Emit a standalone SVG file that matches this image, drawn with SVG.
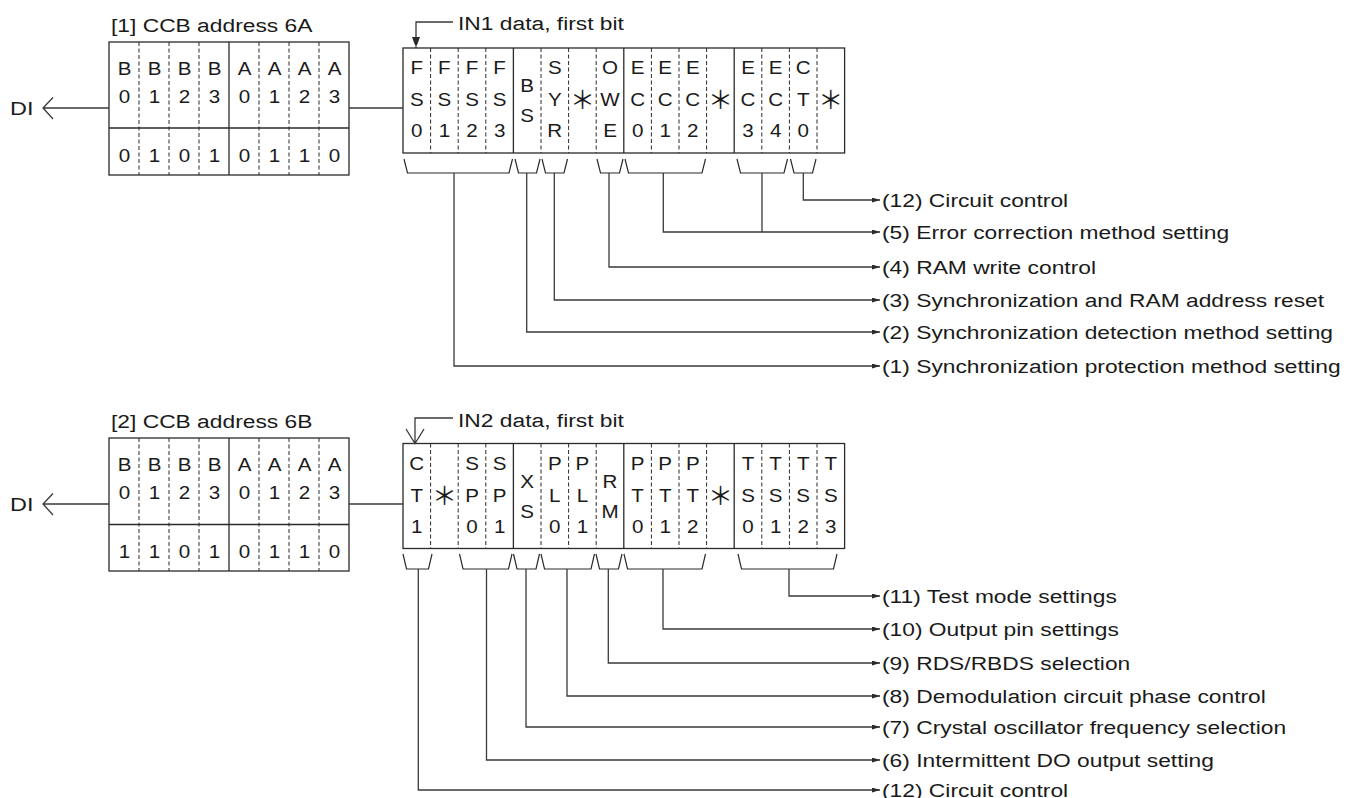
<svg xmlns="http://www.w3.org/2000/svg" width="1351" height="798" viewBox="0 0 1351 798">
<style>
.t{font-family:"Liberation Sans",Arial,sans-serif;font-size:18.6px;fill:#1a1a1a}
.c{font-family:"Liberation Sans",Arial,sans-serif;font-size:18.4px;fill:#1a1a1a;text-anchor:middle}
.ast{font-family:"Noto Sans CJK JP",sans-serif;font-size:25px;fill:#1a1a1a;text-anchor:middle}
.box{fill:#fff;stroke:#2a2a2a;stroke-width:1.3}
.sl{stroke:#2a2a2a;stroke-width:1.3;fill:none}
.dl{stroke:#2a2a2a;stroke-width:1;stroke-dasharray:4 2.5;fill:none}
.br{stroke:#2a2a2a;stroke-width:1.2;fill:none}
.cn{stroke:#3a3a3a;stroke-width:1.3;fill:none}
.ar{stroke:#3a3a3a;stroke-width:1.3;fill:none;marker-end:url(#ah)}
</style>
<defs>
<marker id="ah" markerWidth="8" markerHeight="5" refX="8" refY="2.5" orient="auto" markerUnits="userSpaceOnUse"><path d="M0,0 L8,2.5 L0,5 z" fill="#2a2a2a"/></marker>
<marker id="ah2" markerWidth="8" markerHeight="11" refX="11" refY="4" orient="auto" markerUnits="userSpaceOnUse"><path d="M0,0 L11,4 L0,8 z" fill="#2a2a2a"/></marker>
</defs>

<!-- ===== Section 1 ===== -->
<g id="ccb1">
<text class="t" transform="matrix(1.226 0 0 1 111 31.7)">[1] CCB address 6A</text>
<rect class="box" x="109" y="42" width="240" height="133"/>
<line class="sl" x1="109" y1="128" x2="349" y2="128"/>
<line class="sl" x1="229" y1="42" x2="229" y2="175"/>
<path class="dl" d="M139 42V175M169 42V175M199 42V175M259 42V175M289 42V175M319 42V175"/>
<g transform="matrix(1.12 0 0 1 124.5 0)"><text class="c" y="75">B</text><text class="c" y="103">0</text><text class="c" y="162">0</text></g>
<g transform="matrix(1.12 0 0 1 154.5 0)"><text class="c" y="75">B</text><text class="c" y="103">1</text><text class="c" y="162">1</text></g>
<g transform="matrix(1.12 0 0 1 184.5 0)"><text class="c" y="75">B</text><text class="c" y="103">2</text><text class="c" y="162">0</text></g>
<g transform="matrix(1.12 0 0 1 214.5 0)"><text class="c" y="75">B</text><text class="c" y="103">3</text><text class="c" y="162">1</text></g>
<g transform="matrix(1.12 0 0 1 244.5 0)"><text class="c" y="75">A</text><text class="c" y="103">0</text><text class="c" y="162">0</text></g>
<g transform="matrix(1.12 0 0 1 274.5 0)"><text class="c" y="75">A</text><text class="c" y="103">1</text><text class="c" y="162">1</text></g>
<g transform="matrix(1.12 0 0 1 304.5 0)"><text class="c" y="75">A</text><text class="c" y="103">2</text><text class="c" y="162">1</text></g>
<g transform="matrix(1.12 0 0 1 334.5 0)"><text class="c" y="75">A</text><text class="c" y="103">3</text><text class="c" y="162">0</text></g>
</g>
<g id="di1">
<text class="t" transform="matrix(1.26 0 0 1 10 115)">DI</text>
</g>

<g id="in1">
<rect class="box" x="403" y="48" width="441.6" height="105"/>
<path class="sl" d="M513.4 48V153M623.8 48V153M734.2 48V153"/>
<path class="dl" d="M430.6 48V153M458.2 48V153M485.8 48V153M541 48V153M568.6 48V153M596.2 48V153M651.4 48V153M679 48V153M706.6 48V153M761.8 48V153M789.4 48V153M817 48V153"/>
<g transform="matrix(1.12 0 0 1 416.8 0)"><text class="c" y="74">F</text><text class="c" y="106">S</text><text class="c" y="137.5">0</text></g>
<g transform="matrix(1.12 0 0 1 444.4 0)"><text class="c" y="74">F</text><text class="c" y="106">S</text><text class="c" y="137.5">1</text></g>
<g transform="matrix(1.12 0 0 1 472 0)"><text class="c" y="74">F</text><text class="c" y="106">S</text><text class="c" y="137.5">2</text></g>
<g transform="matrix(1.12 0 0 1 499.6 0)"><text class="c" y="74">F</text><text class="c" y="106">S</text><text class="c" y="137.5">3</text></g>
<g transform="matrix(1.12 0 0 1 527.2 0)"><text class="c" y="91.7">B</text><text class="c" y="121.7">S</text></g>
<g transform="matrix(1.12 0 0 1 554.8 0)"><text class="c" y="74">S</text><text class="c" y="106">Y</text><text class="c" y="137.5">R</text></g>
<text class="ast" x="582.4" y="109">＊</text>
<g transform="matrix(1.12 0 0 1 610 0)"><text class="c" y="74">O</text><text class="c" y="106">W</text><text class="c" y="137.5">E</text></g>
<g transform="matrix(1.12 0 0 1 637.6 0)"><text class="c" y="74">E</text><text class="c" y="106">C</text><text class="c" y="137.5">0</text></g>
<g transform="matrix(1.12 0 0 1 665.2 0)"><text class="c" y="74">E</text><text class="c" y="106">C</text><text class="c" y="137.5">1</text></g>
<g transform="matrix(1.12 0 0 1 692.8 0)"><text class="c" y="74">E</text><text class="c" y="106">C</text><text class="c" y="137.5">2</text></g>
<text class="ast" x="720.4" y="109">＊</text>
<g transform="matrix(1.12 0 0 1 748 0)"><text class="c" y="74">E</text><text class="c" y="106">C</text><text class="c" y="137.5">3</text></g>
<g transform="matrix(1.12 0 0 1 775.6 0)"><text class="c" y="74">E</text><text class="c" y="106">C</text><text class="c" y="137.5">4</text></g>
<g transform="matrix(1.12 0 0 1 803.2 0)"><text class="c" y="74">C</text><text class="c" y="106">T</text><text class="c" y="137.5">0</text></g>
<text class="ast" x="830.8" y="109">＊</text>
</g>
<g id="in1label">
<text class="t" transform="matrix(1.226 0 0 1 458 30)">IN1 data, first bit</text>
</g>

<g id="labels1">
<text class="t" transform="matrix(1.226 0 0 1 882 206.6)">(12) Circuit control</text>
<text class="t" transform="matrix(1.226 0 0 1 882 238.6)">(5) Error correction method setting</text>
<text class="t" transform="matrix(1.226 0 0 1 882 273.6)">(4) RAM write control</text>
<text class="t" transform="matrix(1.226 0 0 1 882 306.6)">(3) Synchronization and RAM address reset</text>
<text class="t" transform="matrix(1.226 0 0 1 882 338.6)">(2) Synchronization detection method setting</text>
<text class="t" transform="matrix(1.226 0 0 1 882 372.6)">(1) Synchronization protection method setting</text>
</g>

<!-- ===== Section 2 ===== -->
<g id="ccb2">
<text class="t" transform="matrix(1.226 0 0 1 111 428)">[2] CCB address 6B</text>
<rect class="box" x="109" y="438" width="240" height="133"/>
<line class="sl" x1="109" y1="524.5" x2="349" y2="524.5"/>
<line class="sl" x1="229" y1="438" x2="229" y2="571"/>
<path class="dl" d="M139 438V571M169 438V571M199 438V571M259 438V571M289 438V571M319 438V571"/>
<g transform="matrix(1.12 0 0 1 124.5 0)"><text class="c" y="471">B</text><text class="c" y="499">0</text><text class="c" y="558">1</text></g>
<g transform="matrix(1.12 0 0 1 154.5 0)"><text class="c" y="471">B</text><text class="c" y="499">1</text><text class="c" y="558">1</text></g>
<g transform="matrix(1.12 0 0 1 184.5 0)"><text class="c" y="471">B</text><text class="c" y="499">2</text><text class="c" y="558">0</text></g>
<g transform="matrix(1.12 0 0 1 214.5 0)"><text class="c" y="471">B</text><text class="c" y="499">3</text><text class="c" y="558">1</text></g>
<g transform="matrix(1.12 0 0 1 244.5 0)"><text class="c" y="471">A</text><text class="c" y="499">0</text><text class="c" y="558">0</text></g>
<g transform="matrix(1.12 0 0 1 274.5 0)"><text class="c" y="471">A</text><text class="c" y="499">1</text><text class="c" y="558">1</text></g>
<g transform="matrix(1.12 0 0 1 304.5 0)"><text class="c" y="471">A</text><text class="c" y="499">2</text><text class="c" y="558">1</text></g>
<g transform="matrix(1.12 0 0 1 334.5 0)"><text class="c" y="471">A</text><text class="c" y="499">3</text><text class="c" y="558">0</text></g>
</g>
<g id="di2">
<text class="t" transform="matrix(1.26 0 0 1 10 511)">DI</text>
</g>

<g id="in2">
<rect class="box" x="403" y="443.5" width="441.6" height="105"/>
<path class="sl" d="M513.4 443.5V548.5M623.8 443.5V548.5M734.2 443.5V548.5"/>
<path class="dl" d="M430.6 443.5V548.5M458.2 443.5V548.5M485.8 443.5V548.5M541 443.5V548.5M568.6 443.5V548.5M596.2 443.5V548.5M651.4 443.5V548.5M679 443.5V548.5M706.6 443.5V548.5M761.8 443.5V548.5M789.4 443.5V548.5M817 443.5V548.5"/>
<g transform="matrix(1.12 0 0 1 416.8 0)"><text class="c" y="470">C</text><text class="c" y="502">T</text><text class="c" y="533.5">1</text></g>
<text class="ast" x="444.4" y="505">＊</text>
<g transform="matrix(1.12 0 0 1 472 0)"><text class="c" y="470">S</text><text class="c" y="502">P</text><text class="c" y="533.5">0</text></g>
<g transform="matrix(1.12 0 0 1 499.6 0)"><text class="c" y="470">S</text><text class="c" y="502">P</text><text class="c" y="533.5">1</text></g>
<g transform="matrix(1.12 0 0 1 527.2 0)"><text class="c" y="487.7">X</text><text class="c" y="517.7">S</text></g>
<g transform="matrix(1.12 0 0 1 554.8 0)"><text class="c" y="470">P</text><text class="c" y="502">L</text><text class="c" y="533.5">0</text></g>
<g transform="matrix(1.12 0 0 1 582.4 0)"><text class="c" y="470">P</text><text class="c" y="502">L</text><text class="c" y="533.5">1</text></g>
<g transform="matrix(1.12 0 0 1 610 0)"><text class="c" y="487.7">R</text><text class="c" y="517.7">M</text></g>
<g transform="matrix(1.12 0 0 1 637.6 0)"><text class="c" y="470">P</text><text class="c" y="502">T</text><text class="c" y="533.5">0</text></g>
<g transform="matrix(1.12 0 0 1 665.2 0)"><text class="c" y="470">P</text><text class="c" y="502">T</text><text class="c" y="533.5">1</text></g>
<g transform="matrix(1.12 0 0 1 692.8 0)"><text class="c" y="470">P</text><text class="c" y="502">T</text><text class="c" y="533.5">2</text></g>
<text class="ast" x="720.4" y="505">＊</text>
<g transform="matrix(1.12 0 0 1 748 0)"><text class="c" y="470">T</text><text class="c" y="502">S</text><text class="c" y="533.5">0</text></g>
<g transform="matrix(1.12 0 0 1 775.6 0)"><text class="c" y="470">T</text><text class="c" y="502">S</text><text class="c" y="533.5">1</text></g>
<g transform="matrix(1.12 0 0 1 803.2 0)"><text class="c" y="470">T</text><text class="c" y="502">S</text><text class="c" y="533.5">2</text></g>
<g transform="matrix(1.12 0 0 1 830.8 0)"><text class="c" y="470">T</text><text class="c" y="502">S</text><text class="c" y="533.5">3</text></g>
</g>
<g id="in2label">
<text class="t" transform="matrix(1.226 0 0 1 458 426.5)">IN2 data, first bit</text>
</g>

<g id="labels2">
<text class="t" transform="matrix(1.226 0 0 1 882 602.6)">(11) Test mode settings</text>
<text class="t" transform="matrix(1.226 0 0 1 882 635.6)">(10) Output pin settings</text>
<text class="t" transform="matrix(1.226 0 0 1 882 669.6)">(9) RDS/RBDS selection</text>
<text class="t" transform="matrix(1.226 0 0 1 882 702.6)">(8) Demodulation circuit phase control</text>
<text class="t" transform="matrix(1.226 0 0 1 882 733.6)">(7) Crystal oscillator frequency selection</text>
<text class="t" transform="matrix(1.226 0 0 1 882 766.6)">(6) Intermittent DO output setting</text>
<text class="t" transform="matrix(1.226 0 0 1 882 796.6)">(12) Circuit control</text>
</g>

<g id="connectors">
<path class="cn" d="M109 108H43M53 97.5L43 108L53 119"/>
<path class="cn" d="M349 108H403"/>
<path class="cn" d="M109 504H43M53 493.5L43 504L53 515"/>
<path class="cn" d="M349 504H403"/>
<path class="cn" d="M453 22H416V48" marker-end="url(#ah2)"/>
<path class="cn" d="M453 418H415V443.5M406 429L415 443.5L424 429"/>
<path class="br" d="M404 159L407.5 173H509L512.5 159M515 159L518.5 173H536.5L540 159M542 159L545.5 173H564L567.5 159M597 159L600.5 173H619.5L623 159M625 159L628.5 173H702L705.5 159M737 159L740.5 173H784L787.5 159M790.5 159L794 173H812.5L816 159"/>
<path class="ar" d="M803.3 173V200H880"/>
<path class="ar" d="M663.3 173V232H880"/>
<path class="cn" d="M762 173V232"/>
<path class="ar" d="M609 173V267H880"/>
<path class="ar" d="M554.3 173V300H880"/>
<path class="ar" d="M526.7 173V332H880"/>
<path class="ar" d="M454 173V366H880"/>
<path class="br" d="M403 554L406.5 569H428.5L432 554M459.5 554L463 569H508.5L512 554M513.5 554L517 569H536L539.5 554M541 554L544.5 569H591L594.5 554M596 554L599.5 569H618.5L622 554M624 554L627.5 569H702L705.5 554M738 554L741.5 569H833.5L837 554"/>
<path class="ar" d="M789 569V596H880"/>
<path class="ar" d="M663 569V629H880"/>
<path class="ar" d="M608.3 569V663H880"/>
<path class="ar" d="M567 569V696H880"/>
<path class="ar" d="M526 569V727H880"/>
<path class="ar" d="M486.5 569V760H880"/>
<path class="ar" d="M418.3 569V790H880"/>
</g>
</svg>
